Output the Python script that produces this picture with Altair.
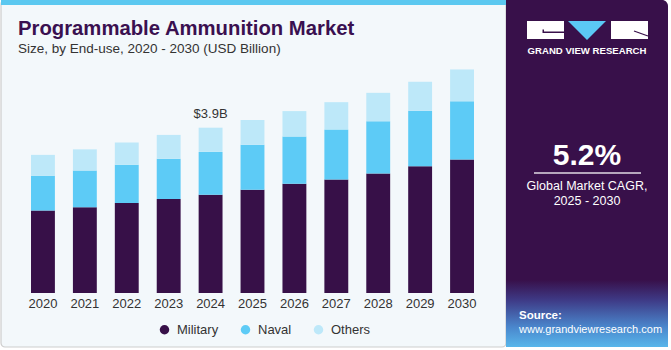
import altair as alt
import pandas as pd

# ---- data ----
years = ["2020", "2021", "2022", "2023", "2024", "2025", "2026", "2027", "2028", "2029", "2030"]
military = [1.94, 2.02, 2.12, 2.21, 2.31, 2.43, 2.57, 2.67, 2.81, 2.98, 3.14]
naval = [0.82, 0.86, 0.90, 0.95, 1.01, 1.06, 1.11, 1.18, 1.23, 1.31, 1.37]
others = [0.49, 0.50, 0.52, 0.56, 0.57, 0.58, 0.60, 0.64, 0.67, 0.68, 0.75]
segments = ["Military", "Naval", "Others"]
seg_colors = ["#371048", "#5DCBF6", "#BDE8F9"]
label_year = "2024"
label_text = "$3.9B"

title = "Programmable Ammunition Market"
subtitle = "Size, by End-use, 2020 - 2030 (USD Billion)"
cagr = "5.2%"
cagr_lines = ["Global Market CAGR,", "2025 - 2030"]
brand = "GRAND VIEW RESEARCH"
source_lines = ["Source:", "www.grandviewresearch.com"]

rows = []
for i, y in enumerate(years):
    for k, (s, v) in enumerate(zip(segments, [military[i], naval[i], others[i]])):
        rows.append({"year": y, "segment": s, "value": v, "order": k})
df = pd.DataFrame(rows)
totals = pd.DataFrame({"year": years, "total": [m + n + o for m, n, o in zip(military, naval, others)]})
lab = pd.DataFrame({"year": [label_year], "total": [3.9], "text": [label_text]})

PURPLE = "#38104A"
one = pd.DataFrame({"a": [0]})

xscale = alt.Scale(domain=years, range=[22, 483], paddingInner=0.43, paddingOuter=0.215)
yscale = alt.Scale(domain=[0, 7], range=[293, 293 - 42.5 * 7], nice=False, zero=True)

def rect(x, x2, y, y2, **kw):
    return alt.Chart(one).mark_rect(**kw).encode(
        x=alt.value(x), x2=alt.value(x2), y=alt.value(y), y2=alt.value(y2))

def text(t, x, y, **kw):
    return alt.Chart(pd.DataFrame({"t": [t]})).mark_text(**kw).encode(
        x=alt.value(x), y=alt.value(y), text="t:N")

bg = rect(1, 506, 0, 347, fill="#F3F8FB", stroke="#CDCDCD", strokeWidth=1.2, cornerRadius=4)
strip = rect(1, 506, 0, 5, fill="#5BC8F0")
panel = rect(506, 668, 0, 347, fill=PURPLE, cornerRadiusTopRight=6)
grad = rect(506, 668, 280, 347, fill=alt.Gradient(
    gradient="linear", x1=0, x2=0, y1=0, y2=1,
    stops=[alt.GradientStop(color=PURPLE, offset=0),
           alt.GradientStop(color="#3E3A86", offset=0.3),
           alt.GradientStop(color="#4A86CC", offset=0.7),
           alt.GradientStop(color="#58B6EA", offset=1)]))

# logo
logo_l = rect(527, 564, 21, 39, fill="white")
logo_l1 = rect(543, 564, 31.5, 33, fill=PURPLE)
logo_l2 = rect(542.5, 544, 29.5, 33, fill=PURPLE)
logo_r = rect(611, 648, 21, 39, fill="white")
logo_r1 = alt.Chart(one).mark_rule(stroke=PURPLE, strokeWidth=1.3).encode(
    x=alt.value(634), x2=alt.value(648), y=alt.value(31), y2=alt.value(36))
tri = alt.Chart(one).mark_point(shape="M-1,-1L1,-1L0,0Z", filled=True, fill="#5BC8F5",
                                 opacity=1, strokeWidth=0, size=38 * 38).encode(
    x=alt.value(587), y=alt.value(40))
brand_t = text(brand, 587, 51, color="white", fontSize=9.6, fontWeight="bold",
               font="Liberation Sans", align="center", baseline="middle")

cagr_t = text(cagr, 587, 165, color="white", fontSize=30, fontWeight="bold",
              font="Liberation Sans", align="center", baseline="alphabetic")
cagr_rule = alt.Chart(one).mark_rule(stroke="white", strokeWidth=1.5, opacity=0.85).encode(
    x=alt.value(534), x2=alt.value(641), y=alt.value(173))
cagr_1 = text(cagr_lines[0], 587, 186, color="white", fontSize=12.5,
              font="Liberation Sans", align="center", baseline="middle")
cagr_2 = text(cagr_lines[1], 587, 201, color="white", fontSize=12.5,
              font="Liberation Sans", align="center", baseline="middle")
src_1 = text(source_lines[0], 519, 316, color="white", fontSize=11.5, fontWeight="bold",
             font="Liberation Sans", align="left", baseline="middle")
src_2 = text(source_lines[1], 519, 330, color="white", fontSize=11,
             font="Liberation Sans", align="left", baseline="middle")

title_t = text(title, 18, 35, color="#3A1050", fontSize=20.3, fontWeight=900,
               font="Liberation Sans", align="left", baseline="alphabetic")
sub_t = text(subtitle, 18, 53, color="#333333", fontSize=13.5,
             font="Liberation Sans", align="left", baseline="alphabetic")

bars = alt.Chart(df).mark_bar().encode(
    x=alt.X("year:N", scale=xscale, axis=None),
    y=alt.Y("value:Q", stack="zero", scale=yscale, axis=None),
    color=alt.Color("segment:N", scale=alt.Scale(domain=segments, range=seg_colors),
                    legend=alt.Legend(orient="none", legendX=158, legendY=323,
                                      direction="horizontal", title=None,
                                      symbolType="circle", symbolSize=90,
                                      symbolStrokeWidth=0, labelFontSize=13,
                                      labelColor="#333333", labelFont="Liberation Sans",
                                      columnPadding=20, labelOffset=6, padding=0)),
    order=alt.Order("order:Q", sort="ascending"),
)

year_labels = alt.Chart(totals).mark_text(fontSize=13, color="#333333",
                                          font="Liberation Sans", baseline="middle").encode(
    x=alt.X("year:N", scale=xscale), y=alt.value(304), text="year:N")

value_label = alt.Chart(lab).mark_text(fontSize=13, color="#333333", font="Liberation Sans",
                                       baseline="bottom", dy=-6).encode(
    x=alt.X("year:N", scale=xscale), y=alt.Y("total:Q", scale=yscale), text="text:N")

chart = alt.layer(
    bg, strip, panel, grad, logo_l, logo_l1, logo_l2, logo_r, logo_r1, tri, brand_t,
    cagr_t, cagr_rule, cagr_1, cagr_2, src_1, src_2, title_t, sub_t,
    bars, year_labels, value_label,
).properties(
    width=671, height=350, autosize=alt.AutoSizeParams(type="none"), padding=0,
    background="white",
).configure_view(stroke=None)

chart.save("out.html", embed_options={"renderer": "svg", "actions": False})
